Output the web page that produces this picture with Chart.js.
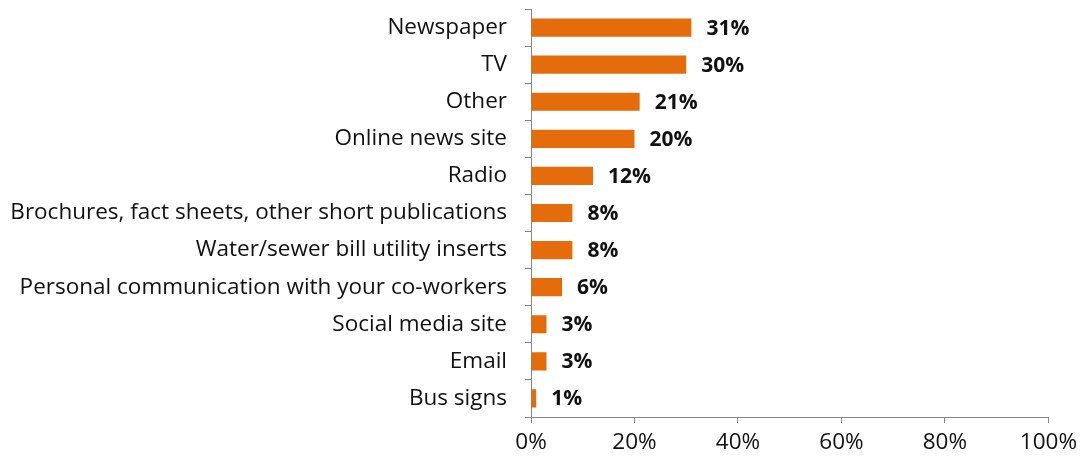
<!DOCTYPE html>
<html>
<head>
<meta charset="utf-8">
<script src="https://cdn.jsdelivr.net/npm/chart.js@4.4.0/dist/chart.umd.min.js"></script>
<style>
  html, body { margin: 0; padding: 0; background: #fff; }
  #wrap { width: 1083px; height: 463px; position: relative; }
</style>
</head>
<body>
<div id="wrap"><canvas id="sources"></canvas></div>
<script>
const categories = [
  'Newspaper',
  'TV',
  'Other',
  'Online news site',
  'Radio',
  'Brochures, fact sheets, other short publications',
  'Water/sewer bill utility inserts',
  'Personal communication with your co-workers',
  'Social media site',
  'Email',
  'Bus signs'
];
const percents = [31, 30, 21, 20, 12, 8, 8, 6, 3, 3, 1];
const xTicks = [0, 20, 40, 60, 80, 100];

const fontFamily = "'Open Sans', Lato, sans-serif";

// bold value labels to the right of each bar
const valueLabels = {
  id: 'valueLabels',
  afterDatasetsDraw(chart) {
    const ctx = chart.ctx;
    const meta = chart.getDatasetMeta(0);
    ctx.save();
    ctx.font = 'bold 21px ' + fontFamily;
    ctx.fillStyle = '#111';
    ctx.textAlign = 'left';
    ctx.textBaseline = 'middle';
    meta.data.forEach(function(bar, i) {
      ctx.fillText(percents[i] + '%', bar.x + 15, bar.y + 1);
    });
    ctx.restore();
  }
};

const ctx = document.getElementById('sources').getContext('2d');
new Chart(ctx, {
  type: 'bar',
  data: {
    labels: categories,
    datasets: [{
      data: percents,
      backgroundColor: '#E46C0A',
      borderWidth: 0,
      categoryPercentage: 1,
      barPercentage: 0.49
    }]
  },
  options: {
    indexAxis: 'y',
    responsive: true,
    maintainAspectRatio: false,
    animation: false,
    layout: { padding: { top: 9, right: 32, left: 0, bottom: 1 } },
    scales: {
      x: {
        min: 0,
        max: 100,
        afterBuildTicks: function(scale) {
          scale.ticks = xTicks.map(function(v) { return { value: v }; });
        },
        ticks: {
          color: '#111',
          font: { family: fontFamily, size: 22.5 },
          padding: 6,
          callback: function(value) { return value + '%'; }
        },
        grid: {
          drawOnChartArea: false,
          color: '#868686',
          tickLength: 6
        },
        border: { color: '#868686' }
      },
      y: {
        afterFit: function(scale) {
          scale.width = 531;
          scale.paddingTop = 0;
          scale.paddingBottom = 0;
        },
        ticks: {
          color: '#111',
          font: { family: fontFamily, size: 22.5 },
          padding: 18
        },
        grid: {
          drawOnChartArea: false,
          color: '#868686',
          tickLength: 6,
          offset: true
        },
        border: { color: '#868686' }
      }
    },
    plugins: {
      legend: { display: false },
      tooltip: { enabled: false }
    }
  },
  plugins: [valueLabels]
});
</script>
</body>
</html>
